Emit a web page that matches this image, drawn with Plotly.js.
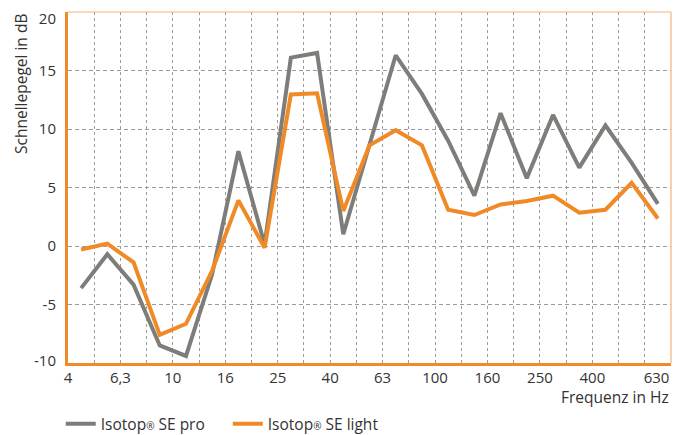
<!DOCTYPE html>
<html>
<head>
<meta charset="utf-8">
<script src="https://cdn.plot.ly/plotly-3.0.1.min.js"></script>
<style>html,body{margin:0;padding:0;background:#fff;}#chart{width:684px;height:435px;}</style>
</head>
<body>
<div id="chart"></div>
<script>
// Third-octave bands (Hz)
var bands = ["4","5","6,3","8","10","12,5","16","20","25","31,5","40","50","63","80","100","125","160","200","250","315","400","500","630"];
// Tick labels shown on the axes
var tickLabels = ["4","6,3","10","16","25","40","63","100","160","250","400","630"];
var yTickValues = [-10, -5, 0, 5, 10, 15, 20];
// Series values (dB)
var sePro   = [-3.6, -0.7, -3.3, -8.5, -9.4, -2.4, 8.1, 0.15, 16.1, 16.5, 1.0, 8.7, 16.3, 13.0, 9.0, 4.3, 11.35, 5.8, 11.2, 6.7, 10.3, 7.1, 3.6];
var seLight = [-0.3, 0.2, -1.4, -7.6, -6.65, -2.1, 3.9, -0.15, 12.95, 13.05, 3.0, 8.6, 9.9, 8.6, 3.1, 2.65, 3.55, 3.85, 4.3, 2.85, 3.1, 5.4, 2.35];
var names = ["Isotop<span style='font-size:10px'>®</span> SE pro", "Isotop<span style='font-size:10px'>®</span> SE light"];

var GRAY = "#7e7d79", ORANGE = "#f08a27";
var xPos = bands.map(function(b, i){ return i + 0.5; });
var tickPos = tickLabels.map(function(t){ var i = bands.indexOf(t); return i === bands.length - 1 ? i + 0.45 : i; });
var gridPos = bands.map(function(b, i){ return i; }).concat([bands.length]);
// y labels nudged inward at the ends (as in the original)
var yLabelPos = yTickValues.map(function(v){ return v === 20 ? 19.4 : (v === -10 ? -9.8 : v); });

var font = "Open Sans, Lato, sans-serif";
var data = [
  {x: xPos, y: sePro, type: "scatter", mode: "lines", name: names[0], line: {color: GRAY, width: 4}},
  {x: xPos, y: seLight, type: "scatter", mode: "lines", name: names[1], line: {color: ORANGE, width: 4}},
  {x: [null], y: [null], xaxis: "x2", yaxis: "y2", showlegend: false, hoverinfo: "skip"}
];
var layout = {
  width: 684, height: 435,
  margin: {l: 68, r: 13, t: 12, b: 72},
  paper_bgcolor: "#fff", plot_bgcolor: "#fff",
  font: {family: font, color: "#333", size: 15},
  showlegend: true,
  legend: {orientation: "h", x: -0.012, xanchor: "left", yref: "container", y: 0.025, yanchor: "middle",
           font: {family: font, size: 15.5, color: "#333"}, traceorder: "normal", itemwidth: 30,
           entrywidth: 122, entrywidthmode: "pixels"},
  xaxis: {range: [0, bands.length], tickmode: "array", tickvals: gridPos, showticklabels: false, ticks: "",
          showgrid: true, gridcolor: "#9b9b9b", gridwidth: 1, griddash: "3px,3px", zeroline: false,
          showline: true, linecolor: ORANGE, linewidth: 3, fixedrange: true},
  xaxis2: {overlaying: "x", anchor: "y", side: "bottom", range: [0, bands.length], tickmode: "array",
           tickvals: tickPos, ticktext: tickLabels, showgrid: false, zeroline: false, showline: false,
           ticks: "outside", ticklen: 1, tickcolor: "rgba(0,0,0,0)", tickfont: {family: font, size: 15, color: "#333"}},
  yaxis: {range: [-10, 20], tickmode: "array", tickvals: yTickValues, showticklabels: false,
          showgrid: true, gridcolor: "#9b9b9b", gridwidth: 1, griddash: "4px,3px", zeroline: false,
          showline: true, linecolor: ORANGE, linewidth: 3, ticks: "", fixedrange: true},
  yaxis2: {overlaying: "y", anchor: "x", side: "left", range: [-10, 20], tickmode: "array",
           tickvals: yLabelPos, ticktext: yTickValues.map(String), showgrid: false, zeroline: false, showline: false,
           ticks: "outside", ticklen: 8, tickcolor: "rgba(0,0,0,0)", tickfont: {family: font, size: 15, color: "#333"}},
  shapes: [
    {type: "line", xref: "paper", yref: "paper", x0: 0, x1: 1, y0: 1, y1: 1, line: {color: "#f5b27a", width: 1.2}},
    {type: "line", xref: "paper", yref: "paper", x0: 1, x1: 1, y0: 0, y1: 1, line: {color: "#f5b27a", width: 1.2}}
  ],
  annotations: [
    {text: "Schnellepegel in dB", textangle: -90, xref: "paper", yref: "paper", x: -0.078, y: 1.0,
     xanchor: "center", yanchor: "top", showarrow: false, font: {family: font, size: 15.5, color: "#333"}},
    {text: "Frequenz in Hz", xref: "paper", yref: "paper", x: 1.0, y: -0.097, xanchor: "right", yanchor: "middle",
     showarrow: false, font: {family: font, size: 15.5, color: "#333"}}
  ]
};
Plotly.newPlot("chart", data, layout, {displayModeBar: false, staticPlot: true});
</script>
</body>
</html>
